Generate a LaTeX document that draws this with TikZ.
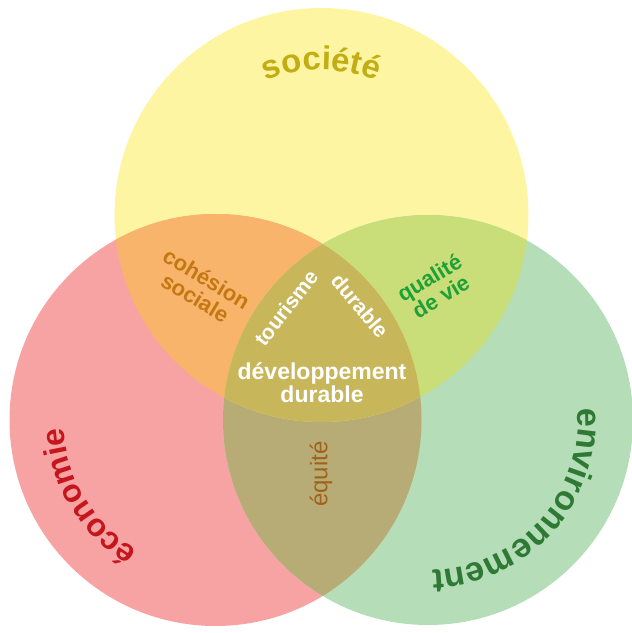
\documentclass[tikz,border=0pt]{standalone}
\usepackage{fontspec}
\setmainfont{Liberation Sans}
\usetikzlibrary{decorations.text}
\definecolor{societe}{HTML}{FEF5A2}
\definecolor{economie}{HTML}{F8A3A3}
\definecolor{environ}{HTML}{B4DDB8}
\definecolor{socEco}{HTML}{F8B46B}
\definecolor{socEnv}{HTML}{C9DE78}
\definecolor{ecoEnv}{HTML}{B8AC76}
\definecolor{centre}{HTML}{C8B65A}
\definecolor{socText}{HTML}{C2AE14}
\definecolor{ecoText}{HTML}{C4161C}
\definecolor{envText}{HTML}{2E7A34}
\definecolor{cohText}{HTML}{C47812}
\definecolor{vieText}{HTML}{20A038}
\definecolor{equText}{HTML}{A0621A}
\newcommand{\labelFont}[1]{\fontsize{#1}{#1}\selectfont\bfseries}

\begin{document}
\begin{tikzpicture}[x=1pt,y=1pt]
  \tikzset{
    zone/.style={inner sep=0pt, align=center, font=\labelFont{22}},
    white zone/.style={zone, text=white}
  }
  \useasboundingbox (0,0) rectangle (632,633);
  \fill[white] (0,0) rectangle (632,633);
  \coordinate (soc) at (321.5,418);
  \coordinate (eco) at (215.5,213);
  \coordinate (env) at (428,213);
  \fill[societe] (soc) circle[radius=207];
  \fill[economie] (eco) circle[radius=206];
  \fill[environ] (env) circle[radius=205];
  \begin{scope}
    \clip (eco) circle[radius=206];
    \fill[ecoEnv] (env) circle[radius=205];
  \end{scope}
  \begin{scope}
    \clip (soc) circle[radius=207];
    \fill[socEco] (eco) circle[radius=206];
    \fill[socEnv] (env) circle[radius=205];
    \clip (eco) circle[radius=206];
    \fill[centre] (env) circle[radius=205];
  \end{scope}
  \path[decorate, decoration={text along path, text align=center,
      text={|\labelFont{33}\color{socText}|société}}]
    ([shift={(125:145)}]soc) arc[start angle=125, end angle=55, radius=145];
  \path[decorate, decoration={text along path, text align=center,
      text={|\labelFont{32}\color{ecoText}|économie}}]
    ([shift={(265:152)}]eco) arc[start angle=265, end angle=157, radius=152];
  \path[decorate, decoration={text along path, text align=center,
      text={|\labelFont{34}\color{envText}|environnement}}]
    ([shift={(23:150)}]env) arc[start angle=23, end angle=-107, radius=150];
  \node[zone, text=cohText, rotate=-31] (cohesion) at (201,345) {cohésion\\sociale};
  \node[zone, text=vieText, rotate=31] (qualite) at (435,346) {qualité\\de vie};
  \node[white zone, font=\labelFont{21}, rotate=52] (tourisme) at (286,325) {tourisme};
  \node[white zone, font=\labelFont{21}, rotate=-50] (durable) at (360,327) {durable};
  \node[white zone, font=\labelFont{23}] (devdur) at (322,250) {développement\\durable};
  \node[zone, text=equText, font=\fontsize{24}{24}\selectfont, rotate=90] (equite) at (321,159) {équité};
\end{tikzpicture}
\end{document}
